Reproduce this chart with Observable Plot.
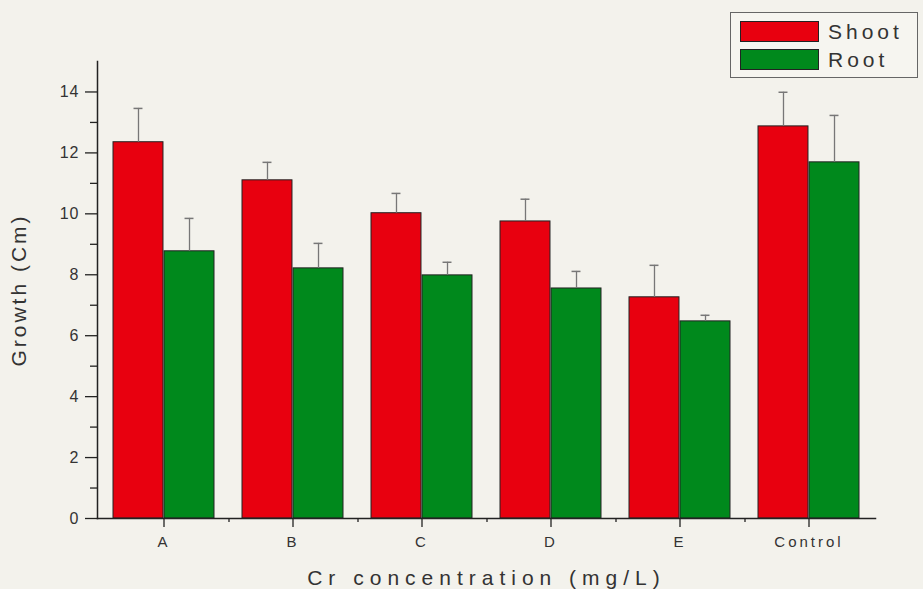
<!DOCTYPE html>
<html>
<head>
<meta charset="utf-8">
<script src="https://cdn.jsdelivr.net/npm/d3@7"></script>
<script src="https://cdn.jsdelivr.net/npm/@observablehq/plot@0.6"></script>
<style>
  html, body { margin: 0; padding: 0; background: #f3f2ec; }
  #wrap { position: relative; width: 923px; height: 589px; font-family: "Liberation Sans", Arial, sans-serif; }
  #legend { position: absolute; left: 730px; top: 12px; width: 188px; height: 66px; border: 1.5px solid #666; background: #f6f5f0; box-sizing: border-box; }
  .row { position: absolute; left: 9px; height: 21px; display: flex; align-items: center; }
  .sw { width: 79px; height: 21px; border: 1px solid #222; box-sizing: border-box; margin-right: 9px; }
  .lab { font-size: 21px; letter-spacing: 4px; color: #333; }
  svg [aria-label="y-axis label"] text { font-size: 21px; letter-spacing: 3px; }
  svg [aria-label="x-axis label"] text { font-size: 21px; letter-spacing: 6px; }
  svg [aria-label="y-axis tick label"] text { letter-spacing: 1px; }
  svg [aria-label="x-axis tick label"] text { letter-spacing: 3px; }
</style>
</head>
<body>
<div id="wrap"></div>
<script>
const categories = ["A", "B", "C", "D", "E", "Control"];
const seriesNames = ["Shoot", "Root"];
const shootValues = [12.35, 11.10, 10.02, 9.75, 7.26, 12.87];
const shootErrors = [1.11, 0.59, 0.65, 0.73, 1.05, 1.12];
const rootValues = [8.77, 8.21, 7.98, 7.55, 6.47, 11.69];
const rootErrors = [1.08, 0.82, 0.43, 0.56, 0.20, 1.54];
const yTicks = [0, 2, 4, 6, 8, 10, 12, 14];
const yMinorTicks = [1, 3, 5, 7, 9, 11, 13];
const colors = ["#e8000f", "#00891c"];

const W = 923, H = 589, mL = 97, mR = 48, mT = 61, mB = 71;
const pIn = 0.215, pOut = 0.1;

const data = categories.map((c, i) => ({
  cat: c, shoot: shootValues[i], shootErr: shootErrors[i], root: rootValues[i], rootErr: rootErrors[i]
}));

const band = d3.scaleBand(categories, [mL, W - mR]).paddingInner(pIn).paddingOuter(pOut);
const bw = band.bandwidth();
const step = band.step();
const cap = 5;
const errColor = "#777";

const chart = Plot.plot({
  width: W, height: H,
  marginLeft: mL, marginRight: mR, marginTop: mT, marginBottom: mB,
  style: { background: "transparent", fontFamily: "'Liberation Sans', Arial, sans-serif", fontSize: "13px", color: "#333" },
  x: { domain: categories, paddingInner: pIn, paddingOuter: pOut, label: null },
  y: { domain: [0, 15], label: null },
  marks: [
    Plot.barY(data, { x: "cat", y: "shoot", fill: colors[0], stroke: "#222", strokeWidth: 1, insetRight: bw / 2 }),
    Plot.barY(data, { x: "cat", y: "root", fill: colors[1], stroke: "#222", strokeWidth: 1, insetLeft: bw / 2 }),
    Plot.ruleX(data, { x: "cat", y1: "shoot", y2: d => d.shoot + d.shootErr, dx: -bw / 4, stroke: errColor, strokeWidth: 1.3 }),
    Plot.tickY(data, { x: "cat", y: d => d.shoot + d.shootErr, insetLeft: bw / 4 - cap, insetRight: 3 * bw / 4 - cap, stroke: errColor, strokeWidth: 1.5 }),
    Plot.ruleX(data, { x: "cat", y1: "root", y2: d => d.root + d.rootErr, dx: bw / 4, stroke: errColor, strokeWidth: 1.3 }),
    Plot.tickY(data, { x: "cat", y: d => d.root + d.rootErr, insetLeft: 3 * bw / 4 - cap, insetRight: bw / 4 - cap, stroke: errColor, strokeWidth: 1.5 }),
    Plot.frame({ anchor: "left", stroke: "#222", strokeWidth: 1.5 }),
    Plot.frame({ anchor: "bottom", stroke: "#222", strokeWidth: 1.5 }),
    Plot.axisY({ ticks: yTicks, tickSize: 12, tickPadding: 6, fontSize: 16, stroke: "#222", strokeWidth: 1.3,
      label: "Growth (Cm)", labelAnchor: "center", labelArrow: "none", labelOffset: 86, fill: "#333" }),
    Plot.axisY({ ticks: yMinorTicks, tickSize: 7, tickFormat: () => "", label: null, stroke: "#222", strokeWidth: 1.3 }),
    Plot.axisX({ tickSize: 9, tickPadding: 9, fontSize: 15, stroke: "#222", strokeWidth: 1.3,
      label: "Cr concentration (mg/L)", labelAnchor: "center", labelArrow: "none", labelOffset: 66, fill: "#333" }),
    Plot.ruleX(categories.slice(0, categories.length - 1), { x: d => d, dx: step / 2, y1: 0, y2: -0.13, stroke: "#222", strokeWidth: 1.3 })
  ]
});

const wrap = document.getElementById("wrap");
wrap.appendChild(chart);

const legend = document.createElement("div");
legend.id = "legend";
seriesNames.forEach((name, i) => {
  const row = document.createElement("div");
  row.className = "row";
  row.style.top = (8 + i * 28) + "px";
  const sw = document.createElement("div");
  sw.className = "sw";
  sw.style.background = colors[i];
  const lab = document.createElement("span");
  lab.className = "lab";
  lab.textContent = name;
  row.appendChild(sw);
  row.appendChild(lab);
  legend.appendChild(row);
});
wrap.appendChild(legend);
</script>
</body>
</html>
